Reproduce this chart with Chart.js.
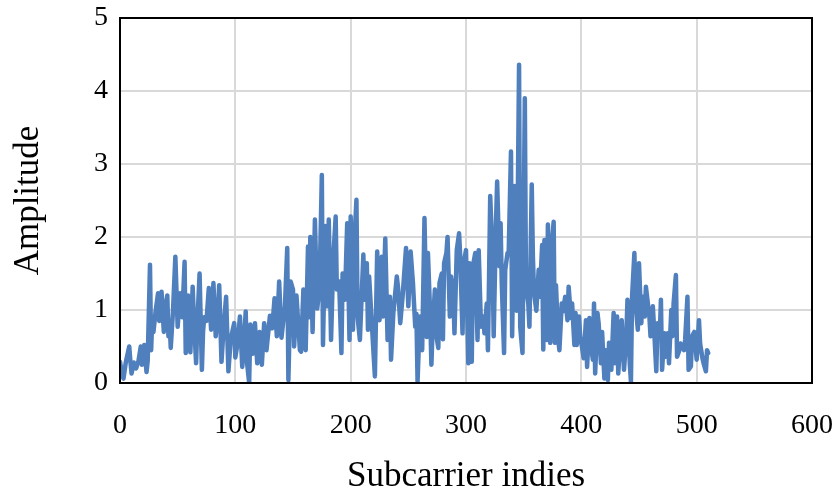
<!DOCTYPE html>
<html>
<head>
<meta charset="utf-8">
<script src="https://cdn.jsdelivr.net/npm/chart.js@4/dist/chart.umd.min.js"></script>
<style>
  html, body { margin: 0; padding: 0; background: #fff; overflow: hidden; }
  canvas { display: block; }
</style>
</head>
<body>
<canvas id="amp" width="840" height="502"></canvas>
<script>
const subcarrier = [
  0, 1, 3, 5, 8, 9, 10, 12, 14, 16, 18, 19, 21, 23, 24, 26, 27, 28, 29, 31,
  33, 34, 36, 38, 39, 41, 42, 43, 44, 46, 48, 50, 52, 54, 56, 57, 59, 61, 63, 64,
  66, 67, 69, 71, 72, 73, 75, 77, 79, 81, 83, 85, 86, 88, 90, 92, 94, 96, 99, 100,
  102, 104, 106, 108, 109, 110, 112, 113, 115, 117, 119, 121, 123, 125, 127, 130, 132, 134, 136, 138,
  140, 143, 145, 146, 148, 150, 151, 153, 156, 157, 159, 161, 163, 164, 165, 167, 169, 171, 173, 175,
  176, 178, 180, 181, 183, 185, 187, 188, 190, 192, 193, 195, 197, 199, 200, 202, 203, 205, 206, 208,
  211, 212, 214, 215, 216, 218, 221, 223, 225, 227, 228, 230, 232, 234, 235, 237, 240, 241, 243, 245,
  248, 250, 252, 254, 256, 257, 258, 260, 262, 264, 266, 267, 269, 270, 271, 273, 274, 276, 277, 279,
  280, 281, 283, 284, 286, 287, 289, 290, 292, 294, 295, 297, 298, 300, 302, 303, 305, 306, 308, 310,
  311, 313, 315, 316, 318, 319, 320, 321, 323, 324, 326, 327, 329, 330, 331, 333, 334, 336, 337, 339,
  340, 342, 343, 344, 346, 347, 349, 351, 352, 354, 355, 357, 358, 359, 361, 363, 364, 366, 367, 368,
  370, 371, 373, 374, 376, 377, 378, 380, 381, 383, 384, 386, 388, 389, 391, 392, 394, 395, 396, 398,
  399, 401, 402, 404, 405, 407, 408, 410, 411, 412, 414, 415, 417, 418, 420, 421, 423, 424, 426, 428,
  429, 431, 432, 434, 435, 437, 439, 440, 442, 443, 444, 446, 447, 449, 450, 452, 453, 455, 456, 457,
  459, 460, 462, 463, 465, 466, 468, 469, 470, 472, 473, 475, 476, 478, 479, 480, 482, 483, 485, 486,
  488, 489, 490, 492, 493, 495, 496, 498, 499, 500, 502, 503, 505, 506, 508, 509, 510
];

const amplitude = [
  0.29, 0.2, 0.06, 0.28, 0.5, 0.3, 0.13, 0.28, 0.2, 0.3, 0.5, 0.25, 0.52, 0.15, 0.3, 1.62, 0.45, 0.9, 0.7, 1.0,
  1.23, 0.85, 1.25, 0.7, 1.0, 1.2, 0.64, 0.85, 0.48, 1.0, 1.73, 0.77, 1.23, 0.9, 1.66, 0.41, 1.2, 0.42, 1.32, 0.9,
  0.27, 0.8, 1.5, 0.18, 0.7, 0.9, 0.85, 1.3, 0.73, 1.37, 0.64, 1.0, 1.34, 0.29, 0.8, 1.18, 0.16, 0.6, 0.82, 0.35,
  0.55, 0.91, 0.22, 0.7, 0.98, 0.3, 0.0, 0.8, 0.4, 0.82, 0.27, 0.7, 0.25, 0.82, 0.45, 0.92, 0.75, 1.16, 0.64, 1.39,
  0.62, 1.05, 1.85, 0.04, 1.39, 1.28, 0.5, 1.2, 0.45, 0.43, 1.28, 0.45, 1.87, 0.9, 2.0, 0.7, 2.24, 1.02, 1.3, 2.85,
  0.52, 2.15, 1.05, 2.24, 0.59, 1.73, 2.28, 1.28, 1.39, 0.41, 1.5, 1.14, 2.19, 0.59, 2.28, 0.73, 1.87, 2.51, 0.91, 0.59,
  1.76, 1.14, 1.64, 0.73, 1.46, 0.91, 0.09, 1.8, 0.86, 1.73, 0.91, 1.98, 0.59, 1.18, 0.32, 0.96, 1.46, 1.32, 0.82, 1.18,
  1.85, 1.05, 1.8, 1.37, 0.77, 0.95, 0.02, 0.91, 0.45, 2.26, 0.63, 1.78, 0.91, 0.25, 0.72, 1.28, 0.68, 0.48, 1.37, 1.5,
  0.6, 1.64, 1.78, 2.0, 0.91, 1.46, 1.23, 0.68, 1.82, 2.05, 1.73, 0.68, 1.64, 1.82, 0.27, 1.64, 0.29, 1.6, 1.78, 0.59,
  1.82, 0.77, 0.91, 0.68, 1.09, 0.45, 1.46, 2.56, 1.73, 0.64, 2.19, 2.76, 1.6, 2.19, 1.37, 0.41, 1.55, 1.78, 1.78, 3.17,
  0.64, 2.7, 1.18, 0.99, 4.36, 0.77, 0.41, 3.9, 1.32, 1.09, 0.77, 2.72, 1.73, 1.23, 0.99, 1.55, 1.18, 1.89, 0.46, 1.96,
  0.59, 2.17, 0.55, 1.82, 2.21, 0.55, 1.34, 0.59, 0.45, 1.09, 0.98, 1.18, 0.86, 1.32, 0.89, 1.09, 0.52, 0.96, 0.52, 0.91,
  0.64, 0.45, 0.34, 0.86, 0.22, 0.89, 0.55, 0.32, 1.09, 0.13, 0.96, 0.82, 0.27, 0.7, 0.06, 0.45, 0.04, 0.55, 0.18, 0.96,
  0.27, 0.91, 0.13, 0.64, 0.86, 0.18, 0.64, 1.14, 0.27, 0.02, 1.18, 1.78, 1.09, 0.73, 1.64, 0.82, 1.18, 0.91, 1.32, 1.18,
  0.91, 0.64, 1.05, 0.77, 0.16, 0.82, 0.64, 1.14, 0.18, 0.68, 0.36, 0.68, 0.27, 1.0, 0.64, 1.09, 1.48, 0.36, 0.45, 0.54,
  0.5, 0.45, 0.59, 1.18, 0.18, 0.23, 0.64, 0.7, 0.5, 0.32, 0.86, 0.54, 0.34, 0.27, 0.16, 0.45, 0.41
];

const xTicks = [0, 100, 200, 300, 400, 500, 600];
const yTicks = [0, 1, 2, 3, 4, 5];

const serif = "'Liberation Serif', 'DejaVu Serif', serif";

// black box round the plot area
const frame = {
  id: "frame",
  afterDraw: (chart) => {
    const { ctx, chartArea: a } = chart;
    ctx.save();
    ctx.strokeStyle = "#000";
    ctx.lineWidth = 2;
    ctx.strokeRect(a.left, a.top, a.right - a.left, a.bottom - a.top);
    ctx.restore();
  },
};

const points = subcarrier.map((x, i) => ({ x, y: amplitude[i] }));

new Chart("amp", {
  type: "line",
  data: {
    datasets: [
      {
        data: points,
        borderColor: "#4f7fbd",
        borderWidth: 4.5,
        borderJoinStyle: "round",
        borderCapStyle: "round",
        pointRadius: 0,
        tension: 0,
        fill: false,
      },
    ],
  },
  options: {
    responsive: false,
    animation: false,
    layout: { autoPadding: false, padding: { top: 18, right: 28, left: 0, bottom: 0 } },
    plugins: { legend: { display: false }, tooltip: { enabled: false } },
    scales: {
      x: {
        type: "linear",
        min: xTicks[0],
        max: xTicks[xTicks.length - 1],
        afterBuildTicks: (s) => { s.ticks = xTicks.map((v) => ({ value: v })); },
        afterFit: (s) => {
          s.height = 119;
          s.paddingLeft = 0;
          s.paddingRight = 0;
        },
        grid: { color: "#d9d9d9", lineWidth: 2, drawTicks: false },
        border: { display: false },
        ticks: { color: "#000", padding: 26, maxRotation: 0, font: { family: serif, size: 28 } },
        title: {
          display: true,
          text: "Subcarrier indies",
          color: "#000",
          padding: { top: 0, bottom: 4 },
          font: { family: serif, size: 35 },
        },
      },
      y: {
        min: yTicks[0],
        max: yTicks[yTicks.length - 1],
        afterBuildTicks: (s) => { s.ticks = yTicks.map((v) => ({ value: v })); },
        afterFit: (s) => {
          s.width = 120;
          s.paddingTop = 0;
          s.paddingBottom = 0;
        },
        grid: { color: "#d9d9d9", lineWidth: 2, drawTicks: false },
        border: { display: false },
        ticks: { color: "#000", padding: 12, font: { family: serif, size: 28 } },
        title: {
          display: true,
          text: "Amplitude",
          color: "#000",
          padding: { top: 8, bottom: 0 },
          font: { family: serif, size: 35 },
        },
      },
    },
  },
  plugins: [frame],
});
</script>
</body>
</html>
